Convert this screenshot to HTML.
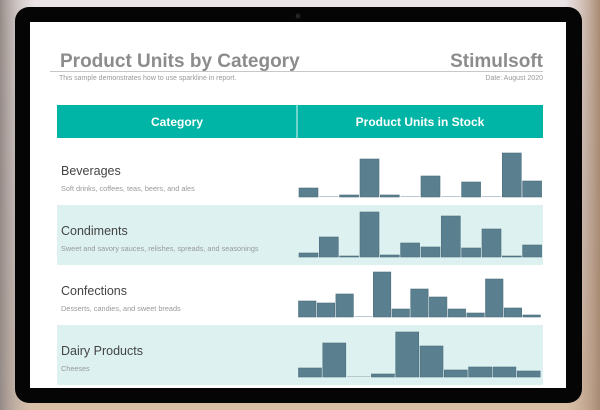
<!DOCTYPE html>
<html><head><style>
html,body{margin:0;padding:0;width:600px;height:410px;overflow:hidden}
body{background:linear-gradient(180deg,#e6dfe1 0%,#d8cfd0 30%,#c7b8b0 70%,#d9c0a5 100%)}
</style></head><body>
<svg width="600" height="410" xmlns="http://www.w3.org/2000/svg" font-family="Liberation Sans, sans-serif">
<defs>
<linearGradient id="bg" x1="0" x2="1"><stop offset="0" stop-color="#958a86"/><stop offset="0.06" stop-color="#d0c6c4" stop-opacity="0"/><stop offset="0.94" stop-color="#c9b0a0" stop-opacity="0"/><stop offset="1" stop-color="#a88a72"/></linearGradient>
<linearGradient id="bg2" x1="0" y1="0" x2="0" y2="1"><stop offset="0" stop-color="#ebe4e6"/><stop offset="0.5" stop-color="#d6cccb"/><stop offset="1" stop-color="#d8bea4"/></linearGradient>
</defs>
<rect width="600" height="410" fill="url(#bg2)"/>
<rect width="600" height="410" fill="url(#bg)"/>
<rect x="15" y="7" width="567" height="396" rx="14" fill="#050505"/>
<circle cx="298" cy="16" r="2.5" fill="#222"/>
<rect x="30" y="22" width="536" height="366" fill="#fff"/>
<text x="60" y="67" font-size="19" font-weight="bold" fill="#8c8c8c">Product Units by Category</text>
<text x="543" y="67" font-size="19" font-weight="bold" fill="#8c8c8c" text-anchor="end">Stimulsoft</text>
<rect x="50" y="71" width="493" height="1" fill="#c8c8c8"/>
<text x="59" y="80" font-size="7" fill="#999">This sample demonstrates how to use sparkline in report.</text>
<text x="543" y="80" font-size="7" fill="#999" text-anchor="end">Date: August 2020</text>
<rect x="57" y="105" width="486" height="33" fill="#00b5a6"/>
<rect x="296.5" y="105" width="1" height="33" fill="#e0f5f3"/>
<text x="177" y="126" font-size="12" font-weight="bold" fill="#fff" text-anchor="middle">Category</text>
<text x="420" y="126" font-size="12" font-weight="bold" fill="#fff" text-anchor="middle">Product Units in Stock</text>
<rect x="57" y="205" width="486" height="60" fill="#dcf1f0"/>
<rect x="57" y="325" width="486" height="60" fill="#dcf1f0"/>
<g fill="#444" font-size="12.5">
<text x="61" y="175">Beverages</text>
<text x="61" y="235">Condiments</text>
<text x="61" y="295">Confections</text>
<text x="61" y="355">Dairy Products</text>
</g>
<g fill="#999" font-size="7.3">
<text x="61" y="191">Soft drinks, coffees, teas, beers, and ales</text>
<text x="61" y="251">Sweet and savory sauces, relishes, spreads, and seasonings</text>
<text x="61" y="311">Desserts, candies, and sweet breads</text>
<text x="61" y="371">Cheeses</text>
</g>
<g fill="#5a7f8e" stroke="#4d7080" stroke-width="0.6">
<rect x="299" y="188" width="19" height="9"/>
<rect x="319.3" y="196" width="19" height="1" fill="#b8c8cc" stroke="none"/>
<rect x="339.6" y="195" width="19" height="2"/>
<rect x="360" y="159" width="19" height="38"/>
<rect x="380.3" y="195" width="19" height="2"/>
<rect x="400.6" y="196" width="19" height="1" fill="#b8c8cc" stroke="none"/>
<rect x="421" y="176" width="19" height="21"/>
<rect x="441.3" y="196" width="19" height="1" fill="#b8c8cc" stroke="none"/>
<rect x="461.6" y="182" width="19" height="15"/>
<rect x="482" y="196" width="19" height="1" fill="#b8c8cc" stroke="none"/>
<rect x="502.3" y="153" width="19" height="44"/>
<rect x="522.6" y="181" width="19" height="16"/>
<rect x="299" y="253" width="19" height="4"/>
<rect x="319.3" y="237" width="19" height="20"/>
<rect x="339.6" y="256" width="19" height="1"/>
<rect x="360" y="212" width="19" height="45"/>
<rect x="380.3" y="255" width="19" height="2"/>
<rect x="400.6" y="243" width="19" height="14"/>
<rect x="421" y="247" width="19" height="10"/>
<rect x="441.3" y="216" width="19" height="41"/>
<rect x="461.6" y="248" width="19" height="9"/>
<rect x="482" y="229" width="19" height="28"/>
<rect x="502.3" y="256" width="19" height="1"/>
<rect x="522.6" y="245" width="19" height="12"/>
<rect x="298.5" y="301" width="17.5" height="16"/>
<rect x="317.2" y="303" width="17.5" height="14"/>
<rect x="335.9" y="294" width="17.5" height="23"/>
<rect x="354.6" y="316" width="17.5" height="1" fill="#b8c8cc" stroke="none"/>
<rect x="373.3" y="272" width="17.5" height="45"/>
<rect x="392" y="309" width="17.5" height="8"/>
<rect x="410.7" y="289" width="17.5" height="28"/>
<rect x="429.4" y="297" width="17.5" height="20"/>
<rect x="448.1" y="309" width="17.5" height="8"/>
<rect x="466.8" y="313" width="17.5" height="4"/>
<rect x="485.5" y="279" width="17.5" height="38"/>
<rect x="504.2" y="308" width="17.5" height="9"/>
<rect x="522.9" y="315" width="17.5" height="2"/>
<rect x="298.5" y="368" width="23" height="9"/>
<rect x="322.8" y="343" width="23" height="34"/>
<rect x="347.1" y="376" width="23" height="1" fill="#b8c8cc" stroke="none"/>
<rect x="371.4" y="374" width="23" height="3"/>
<rect x="395.7" y="332" width="23" height="45"/>
<rect x="420" y="346" width="23" height="31"/>
<rect x="444.3" y="370" width="23" height="7"/>
<rect x="468.6" y="367" width="23" height="10"/>
<rect x="492.9" y="367" width="23" height="10"/>
<rect x="517.2" y="371" width="23" height="6"/>
</g>
</svg>
</body></html>
